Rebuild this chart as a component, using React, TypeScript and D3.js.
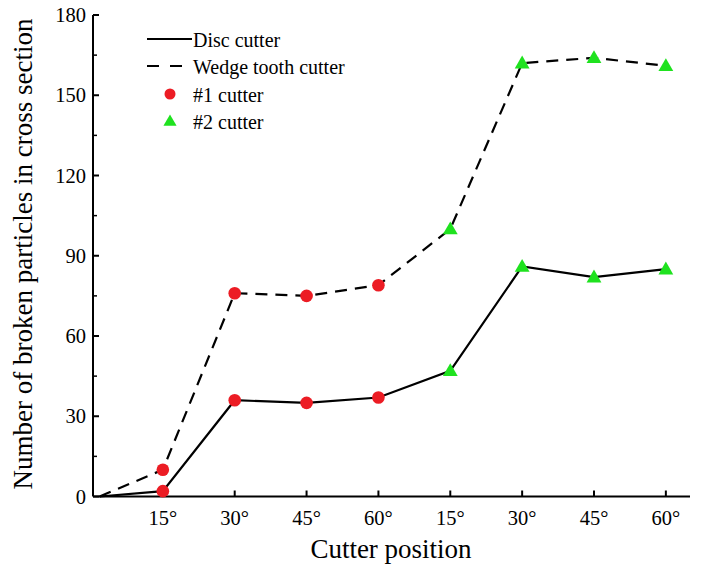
import React from "react";
import * as d3 from "d3";

const xPositions = [0.12, 1, 2, 3, 4, 5, 6, 7, 8];
const tickLabels = ["15°", "30°", "45°", "60°", "15°", "30°", "45°", "60°"];
const discCutter = [0, 2, 36, 35, 37, 47, 86, 82, 85];
const wedgeCutter = [0, 10, 76, 75, 79, 100, 162, 164, 161];
// marker type per point: 0 none, 1 = #1 cutter, 2 = #2 cutter
const cutterGroup = [0, 1, 1, 1, 1, 2, 2, 2, 2];
const yTicks = [0, 30, 60, 90, 120, 150, 180];
const yMinor = [15, 45, 75, 105, 135, 165];
const legendItems = ["Disc cutter", "Wedge tooth cutter", "#1 cutter", "#2 cutter"];

const RED = "#ec1c24";
const GREEN = "#1fe21f";
const FONT = "Liberation Serif";

export default function App() {
  const W = 713, H = 566;
  const x = d3.scaleLinear().domain([0.028, 8.336]).range([93, 690]);
  const y = d3.scaleLinear().domain([0, 180]).range([496.5, 15]);
  const line = d3.line<number>().x((_, i) => x(xPositions[i])).y((d) => y(d));
  const tri = d3.symbol().type(d3.symbolTriangle).size(95);

  const markers = (vals: number[]) =>
    vals.map((v, i) => {
      if (cutterGroup[i] === 1)
        return <circle key={i} cx={x(xPositions[i])} cy={y(v)} r={6.3} fill={RED} />;
      if (cutterGroup[i] === 2)
        return <path key={i} d={tri()!} transform={`translate(${x(xPositions[i])},${y(v) + 1})`} fill={GREEN} />;
      return null;
    });

  const legendBase = [47, 74, 102, 129];

  return (
    <div style={{ position: "absolute", left: 0, top: 0, width: W, height: H, background: "#fff" }}>
      <svg width={W} height={H}>
        <g fontFamily={FONT} fill="#000">
          {/* axes */}
          <line x1={x.range()[0]} x2={x.range()[1]} y1={y(0)} y2={y(0)} stroke="#000" strokeWidth={2} />
          <line x1={x.range()[0]} x2={x.range()[0]} y1={y(0)} y2={y(180)} stroke="#000" strokeWidth={2} />
          {yTicks.map((t) => (
            <g key={t}>
              <line x1={x.range()[0]} x2={x.range()[0] + 6} y1={y(t)} y2={y(t)} stroke="#000" strokeWidth={2} />
              <text fontFamily={FONT} x={86} y={y(t)} dy="0.35em" textAnchor="end" fontSize={20.5}>{t}</text>
            </g>
          ))}
          {yMinor.map((t) => (
            <line key={t} x1={x.range()[0]} x2={x.range()[0] + 4} y1={y(t)} y2={y(t)} stroke="#000" strokeWidth={1.5} />
          ))}
          {tickLabels.map((l, i) => (
            <g key={i}>
              <line x1={x(i + 1)} x2={x(i + 1)} y1={y(0)} y2={y(0) - 6} stroke="#000" strokeWidth={2} />
              <text fontFamily={FONT} x={x(i + 1)} y={525} textAnchor="middle" fontSize={20.5}>{l}</text>
            </g>
          ))}
          <text fontFamily={FONT} x={391} y={558} textAnchor="middle" fontSize={27}>Cutter position</text>
          <text fontFamily={FONT} transform={`translate(32,254) rotate(-90)`} textAnchor="middle" fontSize={27}>
            Number of broken particles in cross section
          </text>

          {/* lines */}
          <path d={line(wedgeCutter)!} fill="none" stroke="#000" strokeWidth={2.2} strokeDasharray="12,8" />
          <path d={line(discCutter)!} fill="none" stroke="#000" strokeWidth={2.2} />
          {markers(wedgeCutter)}
          {markers(discCutter)}

          {/* legend */}
          <line x1={147} x2={192} y1={39} y2={39} stroke="#000" strokeWidth={2} />
          <line x1={147} x2={192} y1={66} y2={66} stroke="#000" strokeWidth={2.2} strokeDasharray="12,11" />
          <circle cx={170} cy={94} r={5.5} fill={RED} />
          <path d={d3.symbol().type(d3.symbolTriangle).size(75)()!} transform="translate(170,122)" fill={GREEN} />
          {legendItems.map((t, i) => (
            <text fontFamily={FONT} key={t} x={193} y={legendBase[i]} fontSize={20}>{t}</text>
          ))}
        </g>
      </svg>
    </div>
  );
}
